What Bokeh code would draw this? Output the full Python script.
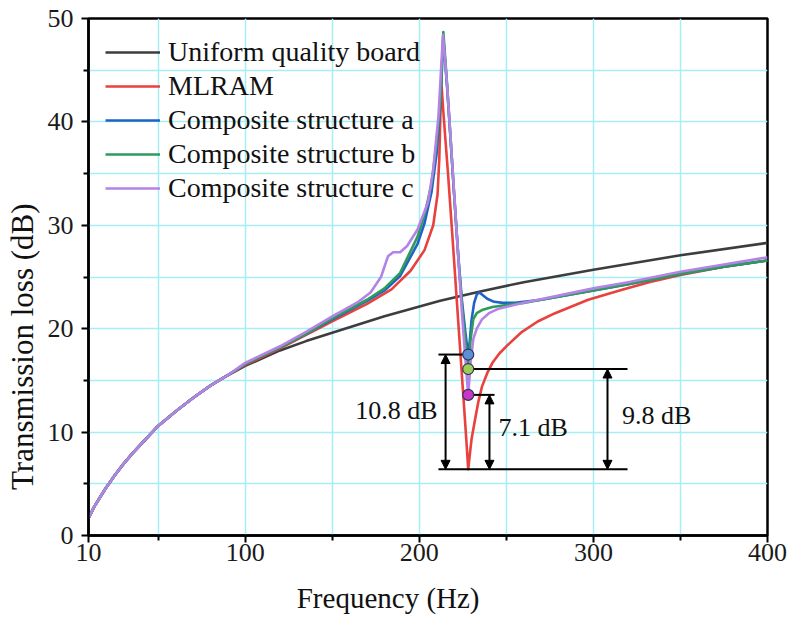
from bokeh.plotting import figure
from bokeh.models import FixedTicker, Label, Arrow, NormalHead, Legend, LegendItem, Range1d
from bokeh.embed import file_html
from bokeh.resources import INLINE

# ---------------- data ----------------
common_f = [10, 13, 17, 20, 25, 30, 35, 40, 50, 60, 70, 80, 90]
common_tl = [1.65, 2.7, 3.8, 4.6, 5.8, 6.9, 7.9, 8.8, 10.6, 12.0, 13.3, 14.5, 15.5]

uniform_f = common_f + [100, 120, 135, 150, 180, 212, 235, 260, 300, 350, 400]
uniform_tl = common_tl + [16.4, 17.9, 18.8, 19.6, 21.2, 22.7, 23.6, 24.5, 25.7, 27.1, 28.3]

mlram_f = common_f + [100, 120, 135, 150, 170, 184, 195, 203, 208, 210.5, 211.5, 212.6, 213.8,
                      215, 216.5, 219, 222, 225, 227, 228.1, 229, 230, 232, 234, 236, 239, 242,
                      246, 250, 259, 268, 278, 297, 317, 332, 350, 375, 400]
mlram_tl = common_tl + [16.5, 18.1, 19.4, 20.7, 22.4, 23.8, 25.6, 27.6, 30.0, 33.0, 36.5, 44.0, 41.0,
                        38.3, 35.0, 29.0, 21.6, 14.2, 9.3, 6.4, 7.8, 9.3, 11.2, 13.0, 14.4, 15.7, 16.7,
                        17.6, 18.3, 19.7, 20.7, 21.5, 22.8, 23.8, 24.5, 25.2, 26.0, 26.6]

comp_a_f = common_f + [100, 120, 135, 150, 170, 180, 189, 199, 203, 207, 210, 212, 213.8, 216, 218,
                       220, 222.5, 224.5, 226.5, 228.1, 229, 230, 231.5, 233, 234.5, 236, 239, 243,
                       248, 255, 270, 300, 320, 350, 375, 400]
comp_a_tl = common_tl + [16.6, 18.2, 19.5, 20.9, 22.7, 23.7, 25.1, 28.2, 30.2, 33.2, 37.0, 41.5, 48.2,
                         43.3, 38.2, 33.0, 26.8, 22.7, 19.6, 17.5, 18.8, 20.8, 22.5, 23.3, 23.5, 23.3,
                         22.9, 22.6, 22.5, 22.5, 22.8, 23.7, 24.3, 25.3, 26.0, 26.6]

comp_b_f = common_f + [100, 120, 135, 150, 170, 180, 189, 199, 203, 207, 210, 212.3, 213.8, 216, 218,
                       220, 222.5, 224.5, 226.5, 228.1, 229.5, 231, 233, 236, 242, 250, 260, 270,
                       300, 320, 350, 375, 400]
comp_b_tl = common_tl + [16.6, 18.2, 19.5, 21.0, 22.8, 23.9, 25.4, 28.9, 31.0, 34.0, 38.0, 42.5, 48.7,
                         43.5, 38.3, 33.0, 26.7, 22.3, 18.8, 16.1, 19.0, 20.9, 21.5, 21.8, 22.1, 22.3,
                         22.5, 22.8, 23.7, 24.3, 25.3, 26.0, 26.6]

comp_c_f = common_f + [100, 120, 135, 150, 165, 172, 178, 182, 185, 189, 193, 199, 205, 208, 211,
                       213.6, 216, 218, 220, 222.5, 224.5, 226.5, 228.1, 229.5, 231, 233, 236, 240,
                       245, 252, 260, 280, 300, 320, 350, 375, 400]
comp_c_tl = common_tl + [16.7, 18.3, 19.7, 21.2, 22.6, 23.5, 25.0, 27.0, 27.4, 27.4, 28.0, 29.6, 32.2,
                         35.4, 40.5, 48.4, 43.5, 38.4, 33.2, 26.6, 21.5, 17.0, 13.6, 16.8, 19.0, 20.0,
                         20.9, 21.5, 21.9, 22.2, 22.5, 23.2, 23.9, 24.5, 25.5, 26.2, 26.9]

series_names = ["Uniform quality board", "MLRAM", "Composite structure a",
                "Composite structure b", "Composite structure c"]

# minima marked with dots and the differences measured from the MLRAM dip
dip_f = 228.1
mlram_min = 6.4
marker_tl = [17.5, 16.1, 13.6]          # structure a, b, c
diff_labels = ["10.8 dB", "9.8 dB", "7.1 dB"]

x_ticks = [10, 100, 200, 300, 400]
x_minor = [50, 150, 250, 350]
y_ticks = [0, 10, 20, 30, 40, 50]
y_minor = [5, 15, 25, 35, 45]

x_title = "Frequency (Hz)"
y_title = "Transmission loss (dB)"

# ---------------- style ----------------
SERIF = "Liberation Serif"
colors = ["#3d3d3d", "#e8413e", "#1f62c6", "#2e9a5c", "#b483e6"]
grid_color = "#a6eef3"
NBSP = "\u00a0"

W, H = 790, 618
p = figure(width=W, height=H, x_range=Range1d(10, 400), y_range=Range1d(0, 50),
           output_backend="svg", toolbar_location=None,
           min_border_left=88, min_border_right=W - 767, min_border_top=18, min_border_bottom=H - 535)

p.outline_line_color = "black"
p.outline_line_width = 2.5
p.outline_line_alpha = 1.0

for ax, ticks, minor in ((p.xaxis[0], x_ticks, x_minor), (p.yaxis[0], y_ticks, y_minor)):
    ax.ticker = FixedTicker(ticks=ticks, minor_ticks=minor)
    ax.axis_line_width = 2.5
    ax.axis_line_color = "black"
    ax.major_tick_line_width = 2
    ax.major_tick_line_color = "black"
    ax.major_tick_in = 0
    ax.major_tick_out = 7
    ax.minor_tick_line_width = 2
    ax.minor_tick_line_color = "black"
    ax.minor_tick_in = 0
    ax.minor_tick_out = 5
    ax.major_label_text_font = SERIF
    ax.major_label_text_font_size = "26px"
    ax.major_label_text_color = "#1a1a1a"
    ax.axis_label_text_font = SERIF
    ax.axis_label_text_font_style = "normal"
    ax.axis_label_text_color = "#111111"
p.xaxis.major_label_standoff = 1
p.yaxis.major_label_standoff = 8

# titles are placed off-centre in the reference: pad with non-breaking spaces
p.xaxis.axis_label = x_title + NBSP * 11
p.xaxis.axis_label_text_font_size = "29px"
p.xaxis.axis_label_standoff = 18
p.yaxis.axis_label = y_title + NBSP * 18
p.yaxis.axis_label_text_font_size = "31px"
p.yaxis.axis_label_standoff = 5

p.xgrid.ticker = FixedTicker(ticks=x_minor + [100, 200, 300])
p.ygrid.ticker = FixedTicker(ticks=y_minor + [10, 20, 30, 40])
p.xgrid.grid_line_color = grid_color
p.ygrid.grid_line_color = grid_color
p.xgrid.grid_line_width = 1.5
p.ygrid.grid_line_width = 1.5

# ---------------- curves ----------------
data = [(uniform_f, uniform_tl), (mlram_f, mlram_tl), (comp_a_f, comp_a_tl),
        (comp_b_f, comp_b_tl), (comp_c_f, comp_c_tl)]
items = []
for (fx, ty), c, name in zip(data, colors, series_names):
    r = p.line(fx, ty, line_color=c, line_width=2.6, line_join="round")
    items.append(LegendItem(label=name, renderers=[r]))

legend = Legend(items=items, location="top_left", margin=17, padding=0, spacing=0,
                label_height=34, glyph_height=34, glyph_width=55, label_standoff=8,
                label_text_font=SERIF, label_text_font_size="28px", label_text_color="#111111",
                background_fill_alpha=0, border_line_alpha=0)
p.add_layout(legend)

# ---------------- difference annotations ----------------
line_kw = dict(line_color="black", line_width=2)
p.line([211.0, 319.6], [mlram_min, mlram_min], **line_kw)
p.line([211.0, 225.4], [marker_tl[0], marker_tl[0]], **line_kw)
p.line([230.0, 319.6], [marker_tl[1], marker_tl[1]], **line_kw)
p.line([230.0, 243.2], [marker_tl[2], marker_tl[2]], **line_kw)

for xa, top in ((215.1, marker_tl[0]), (308.1, marker_tl[1]), (240.3, marker_tl[2])):
    p.add_layout(Arrow(x_start=xa, y_start=mlram_min, x_end=xa, y_end=top,
                       line_color="black", line_width=2,
                       start=NormalHead(size=9, fill_color="black", line_color="black", line_width=1),
                       end=NormalHead(size=9, fill_color="black", line_color="black", line_width=1)))

p.scatter([dip_f] * 3, marker_tl, size=11,
          fill_color=["#5b8fd8", "#9ccd58", "#c936c9"], line_color="#333355", line_width=1.2)

lab_kw = dict(text_font=SERIF, text_font_size="26px", text_color="#111111", text_baseline="middle")
p.add_layout(Label(x=210.5, y=12.1, text=diff_labels[0], text_align="right", **lab_kw))
p.add_layout(Label(x=316.5, y=11.6, text=diff_labels[1], text_align="left", **lab_kw))
p.add_layout(Label(x=245.5, y=10.4, text=diff_labels[2], text_align="left", **lab_kw))

open("out.html", "w").write(file_html(p, INLINE))
